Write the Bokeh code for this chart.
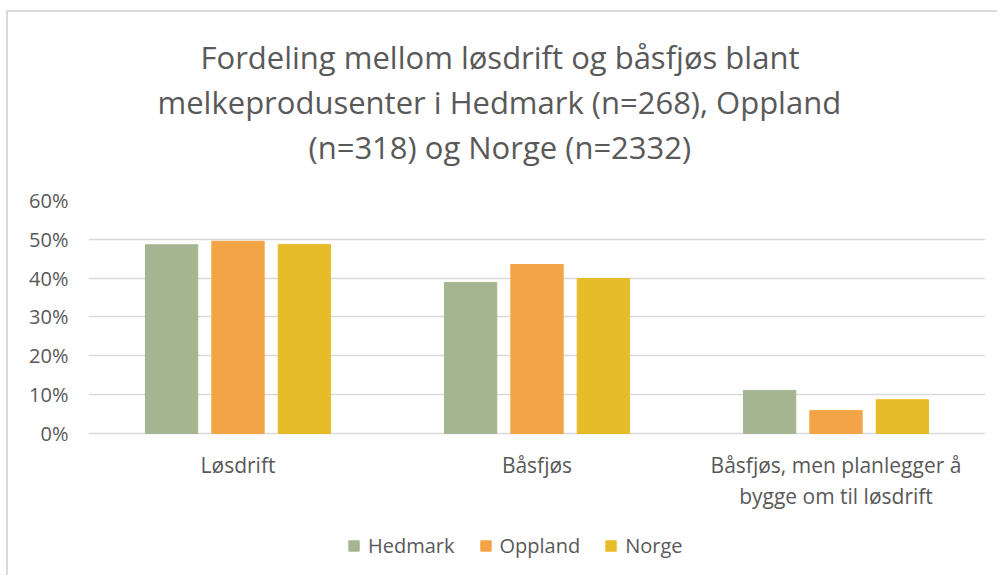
from bokeh.plotting import figure
from bokeh.models import (ColumnDataSource, FactorRange, Range1d, NumeralTickFormatter,
                          FixedTicker, Legend, LegendItem, Title)
from bokeh.core.properties import value
from bokeh.transform import dodge
from bokeh.embed import file_html
from bokeh.resources import INLINE

categories = ["Løsdrift", "Båsfjøs", "Båsfjøs, men planlegger å\nbygge om til løsdrift"]
series = ["Hedmark", "Oppland", "Norge"]
hedmark = [0.486, 0.389, 0.111]
oppland = [0.495, 0.435, 0.059]
norge = [0.487, 0.399, 0.087]
colors = ["#A5B592", "#F3A447", "#E7BC29"]
title_lines = ["Fordeling mellom løsdrift og båsfjøs blant",
               "melkeprodusenter i Hedmark (n=268), Oppland",
               "(n=318) og Norge (n=2332)"]
yticks = [0, 0.1, 0.2, 0.3, 0.4, 0.5, 0.6]

FONT = "Open Sans"
TXT = "#595959"

source = ColumnDataSource(dict(cat=categories, Hedmark=hedmark, Oppland=oppland, Norge=norge))

# the frame extends below 0 to hold the category labels and the legend
p = figure(frame_width=897, frame_height=375, x_range=FactorRange(*categories, range_padding=0),
           y_range=Range1d(-0.3657, 0.6), output_backend="svg", toolbar_location=None,
           min_border_left=80, min_border_right=12, min_border_top=188, min_border_bottom=0,
           styles={"margin-left": "6px", "margin-top": "10px",
                   "border-left": "2px solid #D9D9D9", "border-top": "2px solid #D9D9D9"})
p.title = None
p.add_layout(Title(text=" ", text_font=FONT, text_font_size="22px", standoff=0), "above")
title_offsets = [112, 69, 220]
for line, off in reversed(list(zip(title_lines, title_offsets))):
    p.add_layout(Title(text=line, align="left", offset=off, text_font=FONT,
                       text_font_size="31px", text_color=TXT, text_font_style="normal",
                       standoff=1), "above")

offsets = [-0.222, 0.0, 0.222]
renderers = []
for name, off, col in zip(series, offsets, colors):
    r = p.vbar(x=dodge("cat", off, range=p.x_range), top=name, width=0.175, source=source,
               fill_color=col, line_color=col)
    renderers.append(r)

# category labels
p.text(x="cat", y=-0.045, text="cat", source=source, text_align="center",
       text_baseline="top", text_font=value(FONT), text_font_size=value("21px"),
       text_color=TXT, text_line_height=1.1)

legend = Legend(items=[LegendItem(label=s, renderers=[r]) for s, r in zip(series, renderers)],
                orientation="horizontal", location=(259, 16), label_text_font=FONT,
                label_text_font_size="20px", label_text_color=TXT, glyph_width=13,
                glyph_height=13, label_standoff=8, spacing=24, border_line_color=None,
                padding=2, margin=0, background_fill_alpha=0)
p.add_layout(legend, "center")

p.yaxis.ticker = FixedTicker(ticks=yticks)
p.yaxis.formatter = NumeralTickFormatter(format="0%")
p.yaxis.axis_line_color = None
p.yaxis.major_tick_line_color = None
p.yaxis.minor_tick_line_color = None
p.yaxis.major_tick_out = 0
p.yaxis.major_tick_in = 0
p.yaxis.major_label_text_font = FONT
p.yaxis.major_label_text_font_size = "20px"
p.yaxis.major_label_text_color = TXT
p.yaxis.major_label_standoff = 20

p.xaxis.visible = False

p.xgrid.grid_line_color = None
p.ygrid.grid_line_color = "#D9D9D9"
p.ygrid.grid_line_width = 1.5
p.outline_line_color = None
p.border_fill_color = "white"

open("out.html", "w").write(file_html(p, INLINE))
